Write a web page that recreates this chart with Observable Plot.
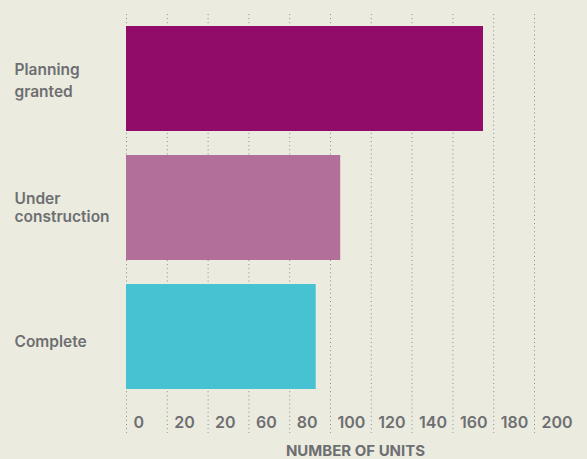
<!DOCTYPE html>
<html><head><meta charset="utf-8">
<script src="https://cdn.jsdelivr.net/npm/d3@7"></script>
<script src="https://cdn.jsdelivr.net/npm/@observablehq/plot@0.6"></script>
<style>html,body{margin:0;padding:0;background:#ebebdf;}</style>
</head><body><div id="chart"></div>
<script>
const categories = ["Planning granted", "Under construction", "Complete"];
const categoryLabels = ["Planning\ngranted", "Under\nconstruction", "Complete"];
const units = [175, 105, 93];
const colors = ["#900c68", "#b26f99", "#47c2d2"];
const tickValues = [0, 20, 40, 60, 80, 100, 120, 140, 160, 180, 200];
const tickLabels = ["0", "20", "20", "60", "80", "100", "120", "140", "160", "180", "200"];
const axisTitle = "NUMBER OF UNITS";

const data = categories.map((c, i) => ({category: c, label: categoryLabels[i], units: units[i]}));
const textColor = "#6e6f72";
const labelStyle = {y: "category", text: "label", frameAnchor: "left", lineAnchor: "middle", textAnchor: "start", dx: -112, fontSize: 15.5, fontWeight: 600, fill: textColor};

const chart = Plot.plot({
  width: 587, height: 459,
  marginLeft: 126, marginRight: 53, marginTop: 14, marginBottom: 26,
  style: {background: "#ebebdf", fontFamily: "Inter, sans-serif", color: textColor},
  x: {domain: [0, 200], axis: null},
  y: {domain: categories, axis: null, paddingInner: 0.186, paddingOuter: 0.217, align: 0.214},
  color: {domain: categories, range: colors},
  marks: [
    Plot.ruleX(tickValues, {x: d => d, stroke: "#8c8c8c", strokeDasharray: "1,3.1", strokeWidth: 1}),
    Plot.barX(data, {y: "category", x: "units", fill: "category"}),
    Plot.text(data.slice(0, 1), {...labelStyle, lineHeight: 1.38}),
    Plot.text(data.slice(1, 2), {...labelStyle, lineHeight: 1.15, dy: -1}),
    Plot.text(data.slice(2), {...labelStyle, dy: 5.5}),
    Plot.text(tickValues, {x: d => d, text: (d, i) => tickLabels[i], frameAnchor: "bottom", lineAnchor: "middle", textAnchor: "start", dx: 7, dy: -11, fontSize: 16, fontWeight: 600, fill: textColor}),
    Plot.text([axisTitle], {text: d => d, frameAnchor: "bottom", lineAnchor: "middle", dx: 25, dy: 18, fontSize: 15, fontWeight: 700, fill: textColor})
  ]
});
document.getElementById("chart").appendChild(chart);
</script>
</body></html>
